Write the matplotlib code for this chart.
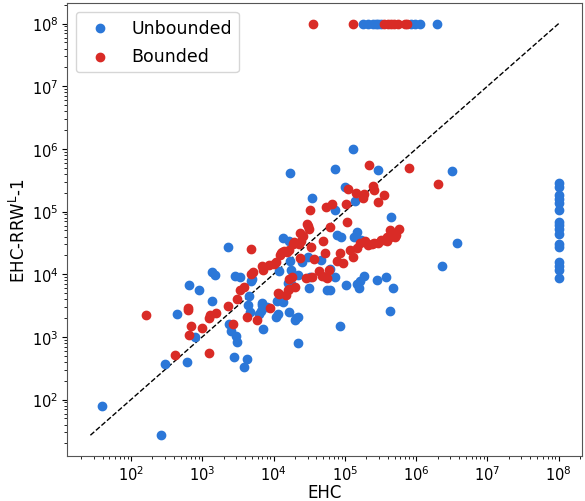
import matplotlib
matplotlib.use('Agg')
import matplotlib.pyplot as plt

# Unbounded (blue) points
unb_x = [39, 263, 296, 605, 446, 650, 790, 910, 1350, 1350, 1500, 2300, 2400, 2500,
         2950, 3100, 2800, 4200, 3800, 2900, 3400, 4400, 4700, 4600, 4900, 5000, 6300,
         6800, 6900, 6700, 7100, 8000, 11000, 11500, 11200, 12000, 13500, 13500, 16300,
         16000, 17400, 17000, 16600, 17800, 20000, 21000, 22000, 22000, 22000, 25000,
         30000, 31000, 47000, 56000, 63000, 17000, 35000, 132000, 72000, 290000,
         3200000, 100000, 138000, 72000, 440000, 78000, 89000, 135000, 150000, 170000,
         3700000, 2300000, 62000, 72000, 186000, 166000, 148000, 160000, 280000, 380000,
         480000, 103000, 430000, 87000, 33000,
         180000, 210000, 250000, 270000, 290000, 320000, 850000, 980000, 1150000, 1950000,
         1e8, 1e8, 1e8, 1e8, 1e8, 1e8, 1e8, 1e8, 1e8, 1e8, 1e8, 1e8, 1e8, 1e8, 1e8, 1e8]
unb_y = [80, 27, 365, 395, 2300, 6800, 980, 5600, 3800, 10700, 9700, 27000, 1600, 1230,
         1020, 830, 470, 450, 335, 9400, 8900, 3200, 2500, 4500, 7900, 8500, 2350,
         3500, 3200, 2600, 1320, 3000, 2100, 2300, 3800, 11200, 38000, 3600, 2500,
         7200, 6900, 16000, 34000, 11500, 1870, 2000, 2100, 790, 9800, 15800,
         18700, 6100, 17000, 5700, 5600, 410000, 166000, 1000000, 480000, 460000,
         440000, 245000, 150000, 107000, 83000, 42000, 39000, 39000, 47000, 35000,
         32000, 13500, 12300, 9100, 9400, 7800, 6900, 6100, 8100, 9100,
         6100, 6700, 2600, 1480, 8900,
         1e8, 1e8, 1e8, 1e8, 1e8, 1e8, 1e8, 1e8, 1e8, 1e8,
         290000, 250000, 185000, 158000, 135000, 108000, 69000, 61000, 53000, 44000,
         30000, 27000, 15700, 13800, 11500, 8700]

# Bounded (red) points
bnd_x = [165, 413, 640, 625, 690, 645, 990, 1230, 1230, 1280, 1540, 2300, 2700, 3100,
         3400, 3900, 4300, 4900, 4800, 5200, 5900, 6800, 7200, 8900, 8700, 10200, 11000,
         11500, 12000, 12300, 12600, 13200, 14200, 15400, 16600, 15000, 16000, 16600,
         16600, 18200, 18600, 19400, 20000, 23500, 23000, 24000, 23500, 26000, 29000,
         34000, 35000, 37000, 44000, 48000, 54000, 56000, 50000, 52000, 60000, 32000,
         54000, 29500, 30000, 31000, 67000, 62000, 220000, 790000, 2000000, 110000,
         250000, 260000, 142000, 186000, 180000, 360000, 290000, 105000, 107000, 430000,
         570000, 520000, 87000, 78000, 95000, 118000, 130000, 148000,
         166000, 190000, 215000, 240000, 260000, 290000, 320000, 350000, 385000, 430000,
         510000, 385000,
         36000, 132000, 350000, 400000, 440000, 490000, 550000, 690000, 740000]
bnd_y = [2200, 515, 2900, 2700, 1480, 1090, 1370, 550, 2000, 2200, 2400, 3100, 1630, 4000,
         5600, 6200, 2100, 25000, 10200, 11000, 1870, 13800, 11500, 2900, 14000, 14800, 15600,
         5100, 4900, 20000, 22000, 23000, 23500, 23000, 24000, 4700, 5600, 5900,
         8300, 9100, 30000, 33000, 6200, 18000, 30000, 34000, 45000, 41000, 8700,
         27500, 9100, 17400, 11200, 9400, 9100, 8700, 34000, 22000, 11500, 107000,
         120000, 63000, 58000, 53000, 132000, 57000, 550000, 500000, 280000, 230000,
         260000, 220000, 195000, 190000, 166000, 185000, 140000, 130000, 68000, 51000,
         53000, 42000, 22000, 16000, 15000, 24000, 18700, 26000,
         32000, 34000, 29000, 30000, 31000, 32000, 35000, 35000, 34000, 39000,
         39000, 40000,
         1e8, 1e8, 1e8, 1e8, 1e8, 1e8, 1e8, 1e8, 1e8]

major = [1e2, 1e3, 1e4, 1e5, 1e6, 1e7, 1e8]

fig = plt.figure(figsize=(5.85, 5.02), dpi=100)
ax = fig.add_axes([0.1145, 0.09, 0.8805, 0.902])

ax.scatter(unb_x, unb_y, s=36, color='#2b77d8', label='Unbounded', zorder=3)
ax.scatter(bnd_x, bnd_y, s=36, color='#d92b26', label='Bounded', zorder=3)

lo = min(min(unb_x), min(unb_y), min(bnd_x), min(bnd_y))
hi = 1e8
ax.plot([lo, hi], [lo, hi], 'k--', linewidth=1, zorder=2)

ax.set_xscale('log')
ax.set_yscale('log')
xl = ax.get_xlim()
yl = ax.get_ylim()
ax.set_xticks(major)
ax.set_yticks(major)
ax.set_xlim(xl)
ax.set_ylim(yl)
ax.set_xlabel('EHC', fontsize=12, labelpad=0)
ax.set_ylabel(r'EHC-RRW$^\mathregular{L}$-1', fontsize=12, labelpad=2)
ax.tick_params(labelsize=10.5, pad=2.5)
for sp in ax.spines.values():
    sp.set_color('#555555')

ax.legend(loc='upper left', fontsize=12.5, labelspacing=0.6)

fig.savefig('out.png', dpi=100)
